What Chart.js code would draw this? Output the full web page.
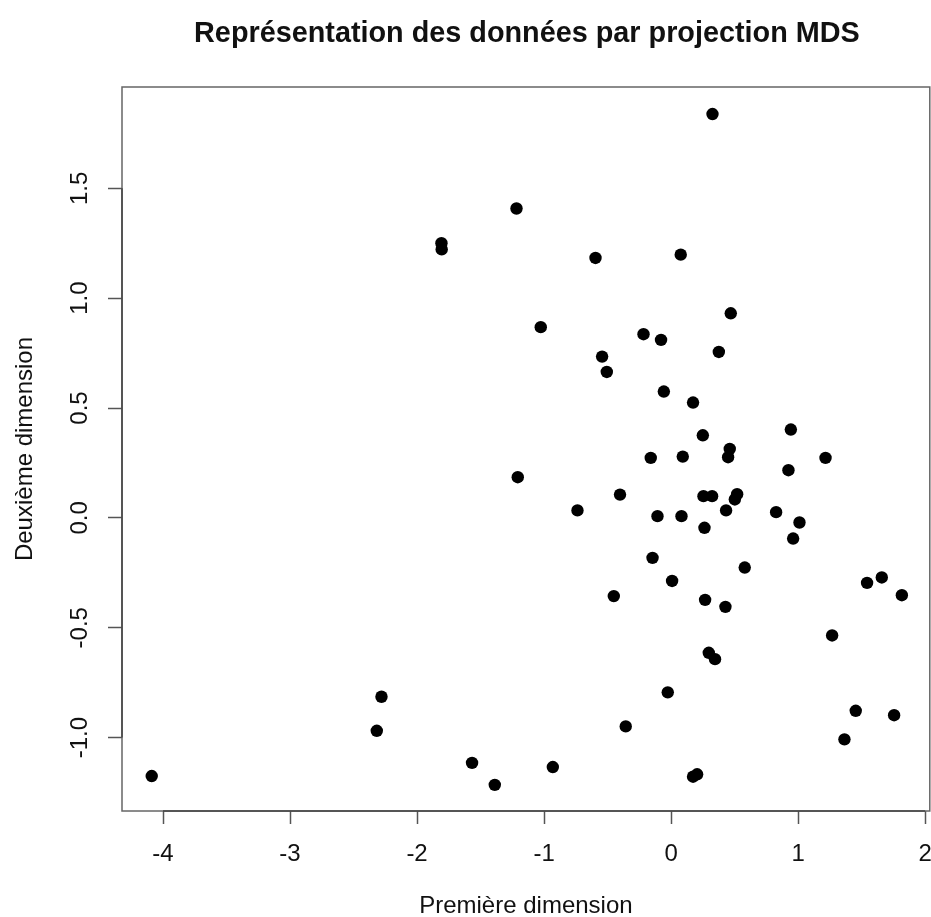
<!DOCTYPE html>
<html>
<head>
<meta charset="utf-8">
<script src="https://cdn.jsdelivr.net/npm/chart.js@4.4.1/dist/chart.umd.min.js"></script>
<style>
  html, body { margin: 0; padding: 0; background: #fff; overflow: hidden; }
  #mds { display: block; }
</style>
</head>
<body>
<!-- a little wider than the window: the layout keeps ~7px free on the right,
     so the frame ends at the window edge like the R device -->
<canvas id="mds" width="936" height="917"></canvas>
<script>
const titleText = "Représentation des données par projection MDS";
const xTitle = "Première dimension";
const yTitle = "Deuxième dimension";

const xTicks = [-4, -3, -2, -1, 0, 1, 2];
const xTickLabels = ["-4", "-3", "-2", "-1", "0", "1", "2"];
const yTicks = [-1.0, -0.5, 0.0, 0.5, 1.0, 1.5];
const yTickLabels = ["-1.0", "-0.5", "0.0", "0.5", "1.0", "1.5"];

// coordinates of each observation on the two MDS dimensions
const dim1 = [
  0.326, -1.217, -0.595, 0.076, 0.470, -1.026, -0.217, -0.079, 0.376, -0.543, -0.506,
  -1.808, -1.806,
  -0.057, 0.173, 0.250, 0.943, 0.462, 0.449, -0.160, 0.092, 1.216, 0.924, -1.207,
  -0.402, 0.255, 0.323, 0.520, 0.502, 0.433, -0.737, 0.827, -0.107, 0.082, 1.011,
  0.263, 0.961, -0.146, 0.580, 0.008, 1.543, 1.659, 1.817, -0.451, 0.268, 0.428,
  1.268, 0.297, 0.346,
  -0.026, -0.357, -0.931, 0.173, 0.205, 1.454, 1.756, 1.365,
  -2.280, -2.317, -4.089, -1.567, -1.388
];
const dim2 = [
  1.838, 1.408, 1.183, 1.198, 0.931, 0.868, 0.836, 0.810, 0.755, 0.734, 0.664,
  1.250, 1.222,
  0.575, 0.525, 0.376, 0.402, 0.314, 0.276, 0.273, 0.279, 0.273, 0.217, 0.185,
  0.106, 0.099, 0.099, 0.108, 0.084, 0.034, 0.034, 0.026, 0.008, 0.008, -0.021,
  -0.045, -0.094, -0.182, -0.226, -0.287, -0.296, -0.271, -0.352, -0.356, -0.373, -0.405,
  -0.535, -0.614, -0.643,
  -0.794, -0.949, -1.134, -1.178, -1.167, -0.878, -0.898, -1.008,
  -0.814, -0.969, -1.175, -1.115, -1.215
];

const points = dim1.map((x, i) => ({ x: x, y: dim2[i] }));
const fontFamily = "'Liberation Sans', Arial, sans-serif";

// R-style frame, tick labels and titles
const decorations = {
  id: "decorations",
  afterDraw(chart) {
    const ctx = chart.ctx;
    const area = chart.chartArea;
    const xs = chart.scales.x;
    const ys = chart.scales.y;
    ctx.save();

    ctx.strokeStyle = "#666";
    ctx.lineWidth = 1.5;
    ctx.strokeRect(area.left, area.top, area.right - area.left, area.bottom - area.top);

    // axis lines between first and last tick
    ctx.strokeStyle = "#444";
    ctx.beginPath();
    ctx.moveTo(xs.getPixelForValue(xTicks[0]), area.bottom);
    ctx.lineTo(xs.getPixelForValue(xTicks[xTicks.length - 1]), area.bottom);
    ctx.moveTo(area.left, ys.getPixelForValue(yTicks[0]));
    ctx.lineTo(area.left, ys.getPixelForValue(yTicks[yTicks.length - 1]));
    ctx.stroke();

    ctx.fillStyle = "#111";
    ctx.textAlign = "center";
    ctx.textBaseline = "middle";
    ctx.font = "24px " + fontFamily;

    xTicks.forEach((v, i) => {
      ctx.fillText(xTickLabels[i], xs.getPixelForValue(v), 854);
    });

    yTicks.forEach((v, i) => {
      ctx.save();
      ctx.translate(80, ys.getPixelForValue(v));
      ctx.rotate(-Math.PI / 2);
      ctx.fillText(yTickLabels[i], 0, 0);
      ctx.restore();
    });

    const midX = (area.left + area.right) / 2;
    const midY = (area.top + area.bottom) / 2;

    ctx.fillText(xTitle, midX, 906);

    ctx.save();
    ctx.translate(25, midY);
    ctx.rotate(-Math.PI / 2);
    ctx.fillText(yTitle, 0, 0);
    ctx.restore();

    ctx.font = "bold 28.8px " + fontFamily;
    ctx.fillText(titleText, midX + 1, 34);

    ctx.restore();
  }
};

new Chart(document.getElementById("mds"), {
  type: "scatter",
  data: {
    datasets: [{
      data: points,
      backgroundColor: "#000",
      borderWidth: 0,
      pointRadius: 6.2,
      pointHoverRadius: 6.2
    }]
  },
  options: {
    responsive: false,
    animation: false,
    layout: { padding: { top: 87, right: 2, left: 0, bottom: 0 } },
    plugins: {
      legend: { display: false },
      tooltip: { enabled: false },
      title: { display: false }
    },
    scales: {
      x: {
        type: "linear",
        min: -4.323,
        max: 2.037,
        afterFit: s => { s.height = 106; },
        afterBuildTicks: s => { s.ticks = xTicks.map(v => ({ value: v })); },
        border: { display: false },
        grid: { drawOnChartArea: false, tickLength: 13, tickColor: "#555", tickWidth: 1.5 },
        ticks: { display: false }
      },
      y: {
        type: "linear",
        min: -1.334,
        max: 1.961,
        afterFit: s => { s.width = 122; },
        afterBuildTicks: s => { s.ticks = yTicks.map(v => ({ value: v })); },
        border: { display: false },
        grid: { drawOnChartArea: false, tickLength: 14, tickColor: "#555", tickWidth: 1.5 },
        ticks: { display: false }
      }
    }
  },
  plugins: [decorations]
});
</script>
</body>
</html>
